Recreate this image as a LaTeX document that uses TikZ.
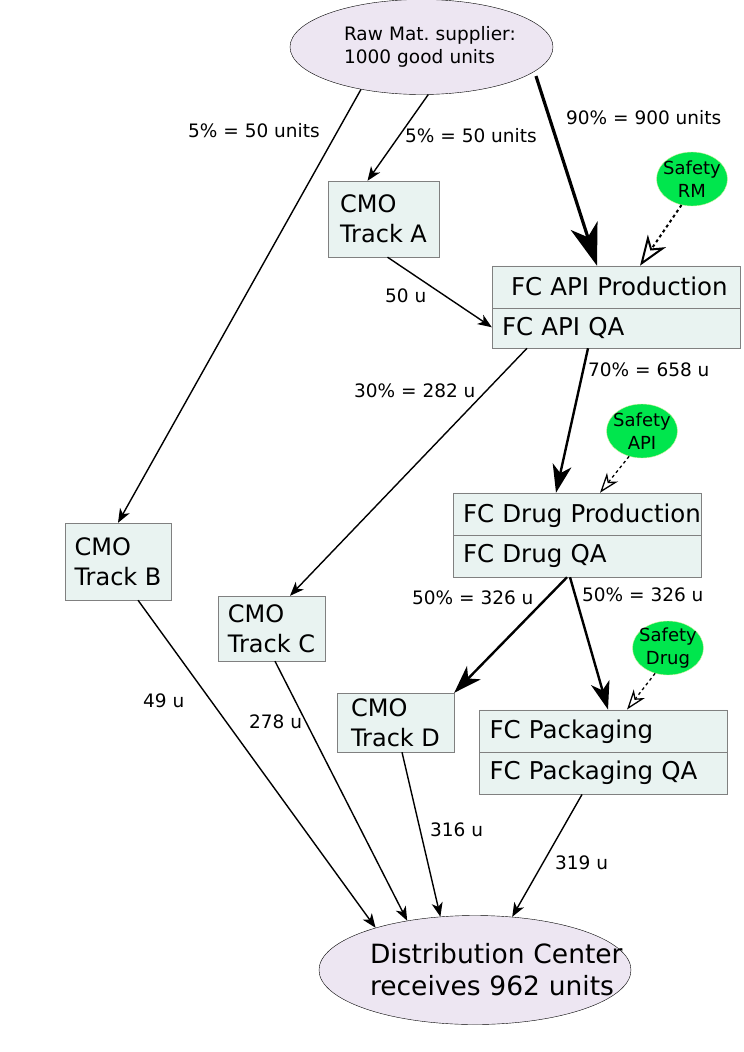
\documentclass[tikz,border=0pt]{standalone}
\usepackage{fontspec}
\setmainfont{DejaVu Sans}
\usetikzlibrary{arrows.meta, shapes.geometric, shapes.multipart, positioning}

\definecolor{lavender}{RGB}{237,230,242}
\definecolor{mint}{RGB}{233,243,241}
\definecolor{boxline}{RGB}{128,128,128}
\definecolor{safegreen}{RGB}{0,230,77}
\definecolor{safeline}{RGB}{214,240,160}

\begin{document}
\frenchspacing
\begin{tikzpicture}[x=1pt, y=-1pt,
    site/.style={draw, ellipse, fill=lavender, inner sep=0pt, align=left},
    cmo/.style={draw=boxline, fill=mint, align=left, inner xsep=9pt, font=\fontsize{24}{30}\selectfont},
    stage/.style={draw=boxline, fill=mint, rectangle split, rectangle split parts=2, text width=228pt, inner xsep=10pt, inner ysep=9pt, text height=20pt, text depth=4pt, align=left, font=\fontsize{24.5}{29}\selectfont},
    safety/.style={ellipse, draw=safeline, fill=safegreen, minimum width=71pt, minimum height=54pt, inner xsep=-4.5pt, inner ysep=-1.5pt, align=center, font=\fontsize{18}{23}\selectfont},
    lbl/.style={anchor=west, inner sep=0pt, font=\fontsize{18.5}{22}\selectfont},
    flow/.style={-{Stealth[length=14pt, width=11pt, inset=4pt]}, line width=1.4pt},
    mainflow/.style={-{Stealth[length=28pt, width=19pt, inset=8pt]}, line width=2.4pt},
    check/.style={-{Stealth[open, length=20pt, width=14pt, inset=6pt]}, line width=1.3pt, dash pattern=on 3pt off 3pt}]
    \useasboundingbox (0,0) rectangle (744,1052);

    % Supplier and distribution center
    \node[site, minimum width=263pt, minimum height=95pt, text width=155pt, font=\fontsize{18.5}{23}\selectfont] (raw) at (421.5,47) {\mbox{Raw Mat. supplier:}\\\mbox{1000 good units}};
    \node[site, minimum width=312pt, minimum height=109pt, text width=210pt, font=\fontsize{26.5}{32}\selectfont] (dc) at (475,970) {\mbox{Distribution Center}\\\mbox{receives 962 units}};

    % Own production stages
    \node[stage] (apiP) at (616,307) {\hspace*{9pt}FC API Production \nodepart{two} FC API QA};
    \node[stage] (drug) at (577,535) {\mbox{FC Drug Production} \nodepart{two} FC Drug QA};
    \node[stage] (pkg) at (603.5,752) {FC Packaging \nodepart{two} FC Packaging QA};

    % Contract manufacturers
    \node[cmo, minimum width=111pt, minimum height=76pt] (cmoA) at (383.5,219) {CMO\\Track A};
    \node[cmo, minimum width=106pt, minimum height=77pt] (cmoB) at (118,561.5) {CMO\\Track B};
    \node[cmo, minimum width=107pt, minimum height=65pt] (cmoC) at (271.5,628.5) {CMO\\Track C};
    \node[cmo, minimum width=117pt, minimum height=59pt] (cmoD) at (395.5,722.5) {CMO\\Track D};

    % Safety stocks
    \node[safety] (safRM) at (692,179) {Safety\\RM};
    \node[safety] (safAPI) at (642,431) {Safety\\API};
    \node[safety] (safDrug) at (668,648) {Safety\\Drug};

    % Flows
    \draw[flow] (raw.215) -- (cmoB.north);
    \draw[flow] (raw.-82) -- ([xshift=-16pt]cmoA.north);
    \draw[-{Stealth[length=42pt, width=28pt, inset=12pt]}, line width=3.2pt] ([xshift=6pt, yshift=-2pt]raw.-14) -- ([xshift=-19pt]apiP.north);
    \draw[check, -{Stealth[open, length=30pt, width=22pt, inset=9pt]}, line width=2pt] (safRM.-112) -- ([xshift=24pt]apiP.north);
    \draw[flow] ([xshift=4pt]cmoA.south) -- ([yshift=21pt]apiP.south west);
    \draw[flow] ([xshift=-89pt]apiP.south) -- ([xshift=18.5pt]cmoC.north);
    \draw[mainflow] ([xshift=-28pt]apiP.south) -- ([xshift=-21pt]drug.north);
    \draw[check] (safAPI.-117) -- ([xshift=23pt]drug.north);
    \draw[mainflow] ([xshift=-10pt]drug.south) -- (cmoD.north east);
    \draw[mainflow] ([xshift=-7pt]drug.south) -- ([xshift=4.5pt]pkg.north);
    \draw[check] (safDrug.-117) -- ([xshift=23.5pt]pkg.north);
    \draw[flow] ([xshift=20pt]cmoB.south) -- (dc.157);
    \draw[flow] ([xshift=3.5pt]cmoC.south) -- (dc.144);
    \draw[flow] ([xshift=6.5pt]cmoD.south) -- (dc.123);
    \draw[flow] ([xshift=-21.5pt]pkg.south) -- (dc.55);

    % Quantities
    \node[lbl] (lRawB) at (188,131) {5\% = 50 units};
    \node[lbl] (lRawA) at (405,136) {5\% = 50 units};
    \node[lbl] (lRawAPI) at (566,118) {90\% = 900 units};
    \node[lbl] (lAtoAPI) at (385,296) {50 u};
    \node[lbl] (lAPItoC) at (354,391) {30\% = 282 u};
    \node[lbl] (lAPItoDrug) at (588,370) {70\% = 658 u};
    \node[lbl] (lDrugD) at (412,598) {50\% = 326 u};
    \node[lbl] (lDrugPkg) at (582,595) {50\% = 326 u};
    \node[lbl] (lB) at (143,701) {49 u};
    \node[lbl] (lC) at (249,722) {278 u};
    \node[lbl] (lD) at (430,830) {316 u};
    \node[lbl] (lPkg) at (555,863) {319 u};
\end{tikzpicture}
\end{document}
